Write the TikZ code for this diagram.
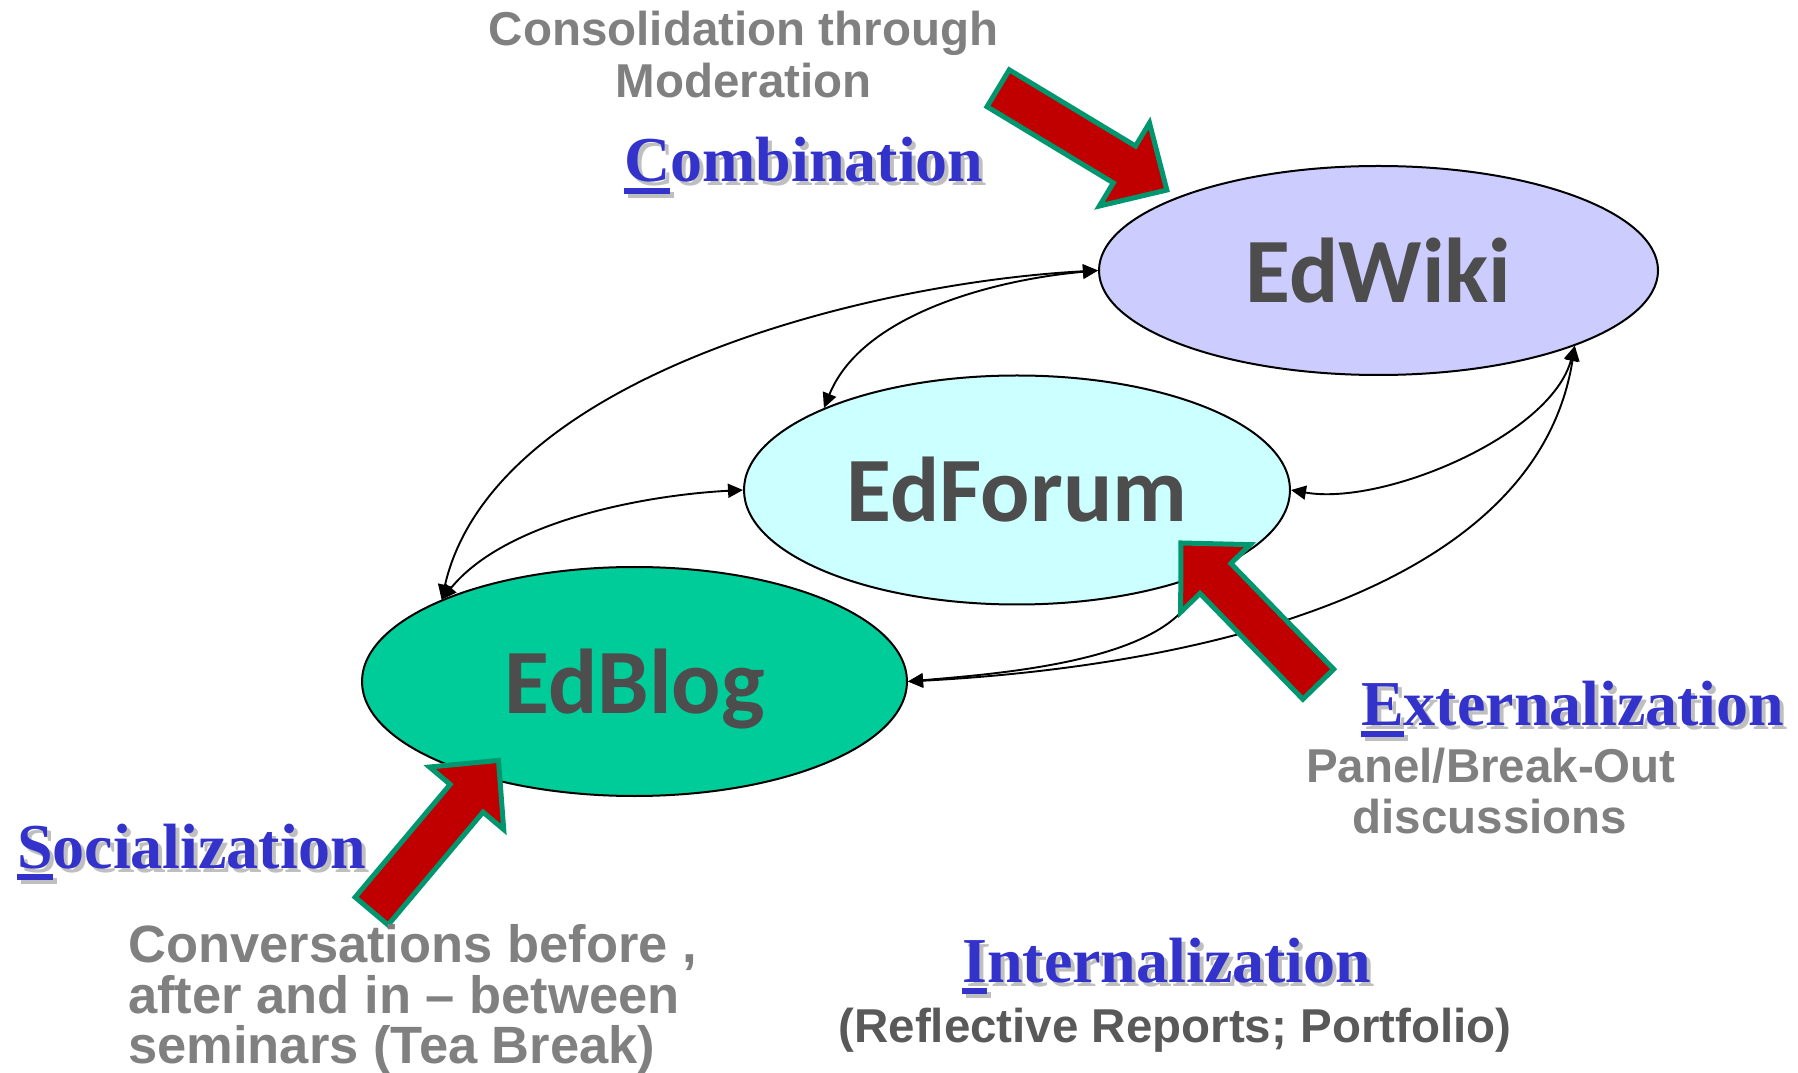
\documentclass[tikz,border=0pt]{standalone}
\usepackage{fontspec}
\setmainfont{Liberation Serif}
\newfontfamily\labelsans{Liberation Sans}
\newfontfamily\nodesans{Carlito}
\newfontfamily\labelserif{Liberation Serif}
\usetikzlibrary{shapes.geometric,arrows.meta}

\definecolor{wikifill}{HTML}{CCCCFF}
\definecolor{forumfill}{HTML}{CCFFFF}
\definecolor{blogfill}{HTML}{00CC99}
\definecolor{nodetext}{HTML}{4D4D4D}
\definecolor{modeblue}{HTML}{3333CC}
\definecolor{notegray}{HTML}{808080}
\definecolor{darknote}{HTML}{595959}
\definecolor{arrowred}{HTML}{C00000}
\definecolor{arrowrim}{HTML}{00966E}

% first letter underlined with a thick bar
\newcommand\ulfirst[2]{\setbox0\hbox{#1}\rlap{\rule[-12pt]{\wd0}{6pt}}\box0#2}
% the same, over a light drop shadow
\newcommand\shadowed[2]{%
  \rlap{\hspace{4pt}\raisebox{-4pt}{\color{black!25}\ulfirst{#1}{#2}}}\ulfirst{#1}{#2}}

% block arrow: tail centre, direction
\newcommand\modearrow[2]{%
  \begin{scope}[shift={#1}, rotate=#2]
    \draw[blockarrow] (2.5,21.5) -- (150,21.5) -- (150,48.5) -- (199.5,0)
      -- (150,-48.5) -- (150,-21.5) -- (2.5,-21.5) -- cycle;
  \end{scope}}

\begin{document}
\begin{tikzpicture}[x=1pt, y=1pt,
  state/.style={ellipse, draw=black, line width=2pt, inner sep=0pt, text=nodetext,
    font=\nodesans\bfseries\fontsize{92}{92}\selectfont, text height=64pt, text depth=0pt},
  conn/.style={line width=1.9pt, {Triangle[length=15pt,width=14pt]}-{Triangle[length=15pt,width=14pt]}},
  blockarrow/.style={fill=arrowred, draw=arrowrim, line width=5pt, line join=miter},
  modetitle/.style={inner sep=0pt, anchor=base west, text=modeblue,
    font=\labelserif\bfseries\fontsize{64}{64}\selectfont},
  note/.style={inner sep=0pt, anchor=base, text=notegray,
    font=\labelsans\bfseries\fontsize{47.5}{52}\selectfont},
  longnote/.style={note, anchor=base west, font=\labelsans\bfseries\fontsize{52.5}{52}\selectfont},
]
\useasboundingbox (0,0) rectangle (1798,1072);

% tools
\node[state, fill=wikifill, minimum width=559pt, minimum height=209pt] (wiki) at (1378.5,801.5) {EdWiki};
\node[state, fill=forumfill, minimum width=546pt, minimum height=229pt] (forum) at (1017,582) {EdForum};
\node[state, fill=blogfill, minimum width=545pt, minimum height=229pt] (blog) at (634.5,390.5) {EdBlog};

% two-way links between the tools
\draw[conn] (blog.157) to[out=77, in=183, looseness=0.8] (wiki.west);
\draw[conn] (forum.157) to[out=68, in=185, looseness=0.85] (wiki.west);
\draw[conn] (blog.157) to[out=51, in=183, looseness=0.8] (forum.west);
\draw[conn] (wiki.-21) to[out=255, in=350, looseness=0.75] (forum.east);
\draw[conn] (wiki.-21) to[out=261, in=3, looseness=0.89] (blog.east);
\draw[conn] (forum.-25) to[out=250, in=5, looseness=0.75] (blog.east);

% block arrows pointing at the tools
\modearrow{(996,985)}{-31.1}
\modearrow{(370,159)}{49.9}
\modearrow{(1320,386)}{134.2}

% notes and mode titles
\node[note] (cons1) at (743.5,1026) {Consolidation through};
\node[note] (cons2) at (743.5,974) {Moderation};
\node[modetitle] (comb) at (624,890) {\shadowed{C}{ombination}};
\node[modetitle] (soc) at (17,204) {\shadowed{S}{ocialization}};
\node[modetitle] (ext) at (1361,347) {\shadowed{E}{xternalization}};
\node[modetitle] (int) at (962,90) {\shadowed{I}{nternalization}};
\node[note] (panel) at (1491,290) {Panel/Break-Out};
\node[note] (disc) at (1490,239) {discussions};
\node[longnote] (conv1) at (128,110) {Conversations before ,};
\node[longnote] (conv2) at (128,59) {after and in – between};
\node[longnote] (conv3) at (128,9) {seminars (Tea Break)};
\node[note, text=darknote] (refl) at (1175,30) {(Reflective Reports; Portfolio)};
\end{tikzpicture}
\end{document}
